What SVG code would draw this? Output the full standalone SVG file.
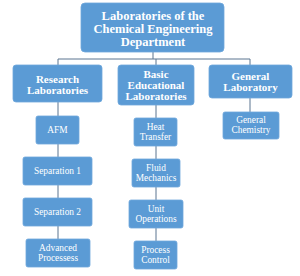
<svg xmlns="http://www.w3.org/2000/svg" width="300" height="276" viewBox="0 0 300 276">
<style>
.box{fill:#5b9bd5;stroke:#6fa7dc;stroke-width:0.8}
.t{font-family:"Liberation Serif","Times New Roman",serif;fill:#fff;text-anchor:middle}
.b{font-weight:bold;font-size:12.5px}
.b2{font-weight:bold;font-size:11px}
.r{font-size:9.4px}
.c{stroke:#5a7590;stroke-width:1;fill:none}
</style>
<rect width="300" height="276" fill="#fff"/>
<g id="connectors">
<path class="c" d="M153 52V59M58 59H250M58 59V65M156 59V65M250 59V65"/>
<path class="c" d="M58 102V116M58 144V157M58 185V198M58 226V239"/>
<path class="c" d="M156 105V118M156 146V159M156 187V200M156 228V241"/>
<path class="c" d="M250 98V112"/>
</g>
<g id="root"><rect class="box" x="81" y="3" width="143" height="49" rx="4"/>
<text class="t b" x="153" y="19.5">Laboratories of the</text>
<text class="t b" x="153" y="32.5">Chemical Engineering</text>
<text class="t b" x="153" y="45.5">Department</text></g>
<g id="research"><rect class="box" x="13" y="65" width="89" height="37" rx="3"/>
<text class="t b2" x="57.5" y="82.5">Research</text>
<text class="t b2" x="57.5" y="93.5">Laboratories</text></g>
<g id="basic"><rect class="box" x="118" y="65" width="76" height="40" rx="3"/>
<text class="t b2" x="156" y="77.5">Basic</text>
<text class="t b2" x="156" y="88.5">Educational</text>
<text class="t b2" x="156" y="99.5">Laboratories</text></g>
<g id="general"><rect class="box" x="209" y="65" width="83" height="33" rx="3"/>
<text class="t b2" x="250.5" y="80">General</text>
<text class="t b2" x="250.5" y="91">Laboratory</text></g>
<g id="afm"><rect class="box" x="36" y="116" width="43" height="28" rx="2"/>
<text class="t r" x="57.5" y="133">AFM</text></g>
<g id="sep1"><rect class="box" x="23" y="157" width="69" height="28" rx="2"/>
<text class="t r" x="57.5" y="174">Separation 1</text></g>
<g id="sep2"><rect class="box" x="23" y="198" width="69" height="28" rx="2"/>
<text class="t r" x="57.5" y="215">Separation 2</text></g>
<g id="adv"><rect class="box" x="26" y="239" width="64" height="28" rx="2"/>
<text class="t r" x="58" y="251">Advanced</text>
<text class="t r" x="58" y="261">Processess</text></g>
<g id="heat"><rect class="box" x="134" y="118" width="43" height="28" rx="2"/>
<text class="t r" x="155.5" y="130">Heat</text>
<text class="t r" x="155.5" y="140">Transfer</text></g>
<g id="fluid"><rect class="box" x="132" y="159" width="48" height="28" rx="2"/>
<text class="t r" x="156" y="171">Fluid</text>
<text class="t r" x="156" y="181">Mechanics</text></g>
<g id="unit"><rect class="box" x="129" y="200" width="54" height="28" rx="2"/>
<text class="t r" x="156" y="212">Unit</text>
<text class="t r" x="156" y="222">Operations</text></g>
<g id="process"><rect class="box" x="134" y="241" width="43" height="28" rx="2"/>
<text class="t r" x="155.5" y="253">Process</text>
<text class="t r" x="155.5" y="263">Control</text></g>
<g id="chem"><rect class="box" x="223" y="112" width="56" height="27" rx="2"/>
<text class="t r" x="251" y="123">General</text>
<text class="t r" x="251" y="133">Chemistry</text></g>
</svg>
